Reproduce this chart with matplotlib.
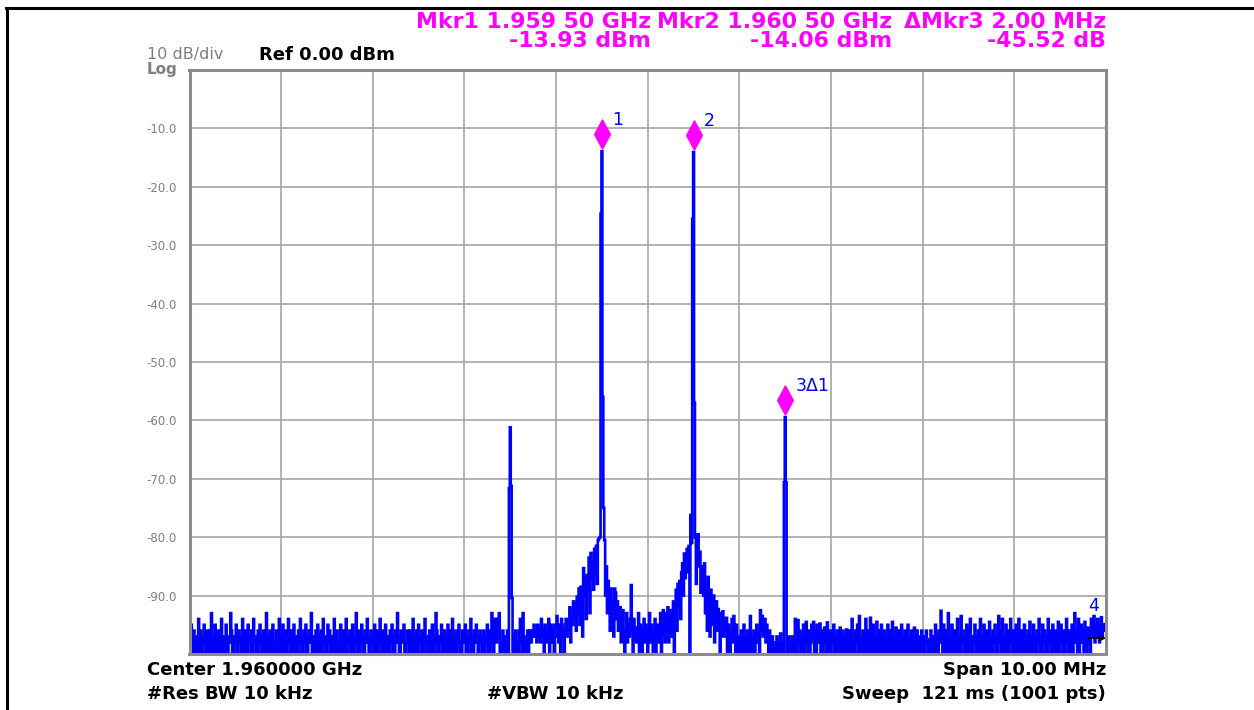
import numpy as np
import matplotlib
matplotlib.use('Agg')
import matplotlib.pyplot as plt
from matplotlib.lines import Line2D
from matplotlib.path import Path
from matplotlib.transforms import offset_copy

# sweep settings
center_ghz = 1.96
span_ghz = 0.01
n_pts = 1001
ref_dbm = 0.0
db_per_div = 10

# measured trace, dBm, one value per sweep point (below -100 is off screen)
trace_dbm = [
    -97, -101, -95, -98, -104, -96, -101, -97, -104, -98, -94, -101, -96, -104, -97, -98, -95, -101, -104, -96,
    -98, -104, -96, -101, -93, -97, -104, -98, -95, -101, -97, -104, -96, -98, -101, -94, -104, -97, -98, -101,
    -95, -101, -104, -97, -98, -93, -96, -104, -101, -97, -98, -95, -104, -101, -96, -98, -97, -104, -94, -101,
    -98, -96, -104, -101, -95, -97, -98, -104, -96, -101, -94, -98, -97, -104, -101, -96, -98, -95, -104, -97,
    -101, -96, -98, -104, -93, -97, -101, -98, -96, -104, -97, -95, -101, -98, -104, -96, -97, -101, -94, -98,
    -104, -97, -95, -101, -98, -96, -104, -97, -94, -98, -101, -96, -97, -104, -95, -98, -101, -97, -104, -96,
    -98, -94, -101, -97, -104, -96, -98, -95, -101, -104, -97, -96, -98, -93, -101, -97, -104, -98, -96, -101,
    -95, -98, -104, -97, -96, -101, -94, -98, -97, -104, -101, -95, -98, -96, -104, -97, -101, -98, -94, -104,
    -97, -96, -101, -98, -104, -95, -97, -101, -96, -98, -104, -94, -101, -97, -98, -96, -104, -101, -95, -97,
    -101, -98, -93, -97, -104, -96, -101, -98, -95, -97, -104, -101, -96, -98, -94, -97, -101, -104, -96, -98,
    -97, -101, -95, -104, -98, -96, -101, -97, -94, -98, -104, -96, -97, -101, -95, -98, -104, -97, -101, -96,
    -98, -95, -104, -97, -101, -96, -98, -93, -97, -104, -101, -96, -98, -97, -95, -104, -101, -98, -96, -97,
    -104, -96, -98, -101, -94, -97, -104, -98, -96, -101, -95, -97, -98, -104, -96, -101, -97, -94, -98, -104,
    -97, -101, -96, -98, -104, -95, -97, -101, -98, -93, -96, -104, -101, -97, -98, -95, -101, -104, -96, -98,
    -101, -97, -95, -104, -98, -96, -101, -94, -97, -104, -98, -96, -101, -97, -95, -98, -104, -101, -96, -97,
    -98, -95, -104, -97, -101, -96, -98, -94, -104, -97, -101, -96, -98, -95, -97, -104, -101, -96, -98, -97,
    -101, -96, -104, -97, -98, -95, -101, -96, -104, -98, -93, -97, -101, -94, -96, -98, -94, -97, -93, -101,
    -98, -104, -96, -101, -97, -104, -98, -96, -101, -71.6, -61.2, -71.2, -90.4, -101, -104, -97, -96, -101, -98, -104,
    -96, -94, -98, -104, -93, -101, -97, -104, -98, -96, -101, -97, -96, -98, -97, -96, -95, -97, -96, -98,
    -95, -97, -96, -98, -94, -97, -96, -101, -95, -97, -98, -96, -94, -101, -97, -95, -98, -96, -104, -95,
    -97, -93.5, -96, -98, -95, -101, -94, -97, -96, -104, -95, -94, -97, -95, -96, -92, -98, -93, -95, -91,
    -94, -91.6, -96, -90.2, -93, -88.8, -95, -88.5, -92, -97, -85.3, -90, -87, -94, -86.5, -89, -83.5, -93, -82.7, -87,
    -84, -89, -82, -86, -81.5, -88, -80.5, -80.2, -80, -24.6, -13.93, -56, -75, -80.5, -90, -85, -93, -87.5, -91, -96,
    -88.8, -91, -95.8, -97, -88.8, -89.5, -94, -91, -96, -93, -92, -98, -95, -92.5, -97, -101, -96, -93, -98, -95,
    -97, -94, -88.2, -96, -101, -94, -97, -95.5, -98, -96, -93, -101, -95, -97, -104, -96, -94, -98, -95, -97,
    -101, -96, -93, -98, -95, -97, -104, -96, -94, -101, -97, -95, -98, -96, -93, -101, -97, -92.5, -95, -98,
    -93, -96, -92, -98, -94, -92.5, -97, -95, -91, -101, -93, -89, -96, -88, -92, -87.5, -94, -86, -84.5, -90,
    -82.8, -87, -84, -82, -86, -81.5, -101, -76.2, -81, -25.5, -14.06, -57, -80, -88, -81, -79.5, -85, -82.5, -89.5, -85,
    -86, -90, -84.5, -93, -88, -96, -86.8, -91, -97, -89, -92, -95, -90, -98, -93, -91, -96, -92.3, -94, -101,
    -93, -95, -92.7, -97, -94, -96, -93.8, -101, -95, -97, -104, -96, -94, -98, -93.5, -96, -101, -95, -97, -104,
    -97, -101, -96, -104, -98, -95, -101, -97, -104, -96, -98, -101, -93.5, -97, -104, -98, -96, -101, -97, -95,
    -98, -96, -101, -92.5, -96, -93.5, -97, -95.5, -94, -98, -95, -97, -101, -96, -98, -104, -97, -101, -104, -98,
    -101, -97, -104, -98, -101, -96.5, -104, -98, -101, -70.6, -59.45, -70.6, -101, -104, -97, -101, -98, -104, -97, -101,
    -101, -94, -97, -104, -94.2, -98, -96, -101, -104, -97, -95, -101, -98, -94.5, -97, -104, -96, -101, -98, -95,
    -97, -94.5, -101, -96, -104, -95, -98, -97, -94.8, -101, -96, -104, -98, -95.5, -97, -101, -94.6, -98, -104, -96,
    -101, -96.5, -98, -95, -104, -97, -101, -96, -98, -104, -95.5, -97, -101, -96, -98, -104, -97, -95.8, -101, -98,
    -96, -104, -98, -94, -101, -97, -104, -96, -98, -95, -101, -93.5, -97, -104, -98, -96, -101, -97, -94, -104,
    -98, -96, -101, -93.8, -97, -104, -95, -98, -101, -97, -94.5, -104, -96, -98, -101, -95, -97, -104, -96, -98,
    -101, -97, -95, -104, -98, -96, -101, -94.5, -97, -104, -98, -95.5, -101, -97, -96, -104, -98, -95, -101, -97,
    -104, -96, -98, -101, -95, -97, -104, -98, -96, -101, -97, -95.5, -104, -98, -96, -101, -97, -104, -98, -96,
    -101, -97, -104, -98, -96, -97.5, -101, -104, -98, -96, -101, -97, -104, -98, -95, -101, -97, -104, -96, -98,
    -92.6, -97, -101, -95, -104, -98, -96, -101, -93, -97, -104, -98, -95, -101, -97, -96, -104, -98, -94, -101,
    -97, -104, -93.5, -98, -96, -101, -97, -104, -95, -98, -101, -96, -94, -104, -97, -101, -98, -95, -97, -104,
    -98, -96, -101, -94, -97, -104, -98, -95, -101, -97, -96, -104, -98, -94.5, -101, -97, -104, -96, -98, -95,
    -101, -97, -104, -93.5, -98, -96, -101, -94, -97, -104, -98, -95, -101, -96, -104, -97, -94, -98, -101, -96,
    -97, -104, -95, -98, -101, -94, -97, -104, -96, -98, -101, -95, -97, -104, -98, -96, -101, -94.5, -97, -104,
    -98, -95, -101, -97, -104, -96, -98, -94, -101, -97, -104, -95, -98, -96, -101, -97, -104, -94, -98, -96,
    -101, -97, -95, -104, -98, -96, -101, -97, -94.5, -104, -98, -95, -97, -101, -96, -104, -98, -94, -97, -101,
    -96, -104, -98, -95, -101, -97, -93, -98, -96, -104, -94, -101, -97, -95, -98, -96, -104, -94.5, -97, -101,
    -95.5, -98, -96, -101, -94, -97, -96, -93.5, -98, -95, -97, -94, -96, -98, -95, -93.7, -97, -95, -96, -94.9,
    -95,
]

# markers: sweep point index and label
mkr_idx = [450, 550, 650]
mkr_labels = ['1', '2', '3\u03941']
mkr4_label = '4'
mkr4_dbm = -97.3

y_tick_labels = ['-10.0', '-20.0', '-30.0', '-40.0', '-50.0', '-60.0', '-70.0', '-80.0', '-90.0']

header_top = ['Mkr1 1.959 50 GHz', 'Mkr2 1.960 50 GHz', '\u0394Mkr3 2.00 MHz']
header_bottom = ['-13.93 dBm', '-14.06 dBm', '-45.52 dB']

W, H = 1254, 710
MAGENTA = '#ff00ff'
BLUE = '#0000ff'
GRAY = '#7f7f7f'


def fx(px):
    return px / W


def fy(py):
    return 1 - py / H


trace = np.array(trace_dbm)
assert len(trace) == n_pts
freq = np.linspace(center_ghz - span_ghz / 2, center_ghz + span_ghz / 2, n_pts)

fig = plt.figure(figsize=(W / 100, H / 100), dpi=100)
fig.patch.set_facecolor('white')

left, right, top, bottom = 189.5, 1106, 69.9, 654
ax = fig.add_axes([fx(left), fy(bottom), (right - left) / W, (bottom - top) / H])

ax.set_xlim(freq[0], freq[-1])
ax.set_ylim(ref_dbm - 10 * db_per_div, ref_dbm)
ax.set_xticks(np.linspace(freq[0], freq[-1], 11))
ax.set_yticks(np.arange(ref_dbm - 10 * db_per_div, ref_dbm + 1, db_per_div))
ax.set_xticklabels([])
ax.set_yticklabels([''] + y_tick_labels[::-1] + [''])
ax.tick_params(length=0, pad=9, labelsize=8.5, labelcolor=GRAY)
ax.grid(True, color='#a6a6a6', lw=1.2)
ax.set_axisbelow(True)
for s in ax.spines.values():
    s.set_color('#8c8c8c')
    s.set_linewidth(2.2)

ax.plot(freq, trace, color=BLUE, lw=1.9, drawstyle='steps-mid', solid_joinstyle='miter')

# marker diamonds sit just above the trace point
diamond = Path([(0, 1), (0.54, 0), (0, -1), (-0.54, 0), (0, 1)],
               [Path.MOVETO, Path.LINETO, Path.LINETO, Path.LINETO, Path.CLOSEPOLY])
above = offset_copy(ax.transData, fig=fig, x=0, y=12.5, units='points')
for i, lab in zip(mkr_idx, mkr_labels):
    ax.plot(freq[i], trace[i], marker=diamond, ms=21, color=MAGENTA,
            mec=MAGENTA, transform=above, clip_on=False)
    ax.annotate(lab, xy=(freq[i], trace[i]), xytext=(7.5, 16), textcoords='offset points',
                color=BLUE, fontsize=12.5, ha='left', va='bottom')

# marker 4 is off screen to the right
ax.annotate('', xy=(1.0, mkr4_dbm), xycoords=('axes fraction', 'data'),
            xytext=(-13, 0), textcoords='offset points',
            arrowprops=dict(arrowstyle='->', color='black', lw=1, shrinkA=0, shrinkB=0))
ax.annotate(mkr4_label, xy=(1.0, mkr4_dbm), xycoords=('axes fraction', 'data'),
            xytext=(-13, 16.5), textcoords='offset points',
            color=BLUE, fontsize=12.5, ha='left', va='bottom')

# annotation text around the screen
col_right = [651, 892, 1106]
for xr, t1, t2 in zip(col_right, header_top, header_bottom):
    fig.text(fx(xr), fy(28), t1, color=MAGENTA, fontsize=15.8, fontweight='bold',
             ha='right', va='baseline')
    fig.text(fx(xr), fy(47), t2, color=MAGENTA, fontsize=15.8, fontweight='bold',
             ha='right', va='baseline')

fig.text(fx(147), fy(59), '10 dB/div', color=GRAY, fontsize=11.5, va='baseline')
fig.text(fx(147), fy(74), 'Log', color=GRAY, fontsize=11, fontweight='bold', va='baseline')
fig.text(fx(259), fy(60), 'Ref 0.00 dBm', color='black', fontsize=13, fontweight='bold', va='baseline')

fig.text(fx(147), fy(675), 'Center 1.960000 GHz', fontsize=13, fontweight='bold', va='baseline')
fig.text(fx(147), fy(699), '#Res BW 10 kHz', fontsize=13, fontweight='bold', va='baseline')
fig.text(fx(555), fy(699), '#VBW 10 kHz', fontsize=13, fontweight='bold', ha='center', va='baseline')
fig.text(fx(1106), fy(675), 'Span 10.00 MHz', fontsize=13, fontweight='bold', ha='right', va='baseline')
fig.text(fx(1106), fy(699), 'Sweep  121 ms (1001 pts)', fontsize=13, fontweight='bold',
         ha='right', va='baseline')

# outer window frame (top and left edges)
fig.add_artist(Line2D([fx(6), 1], [fy(7.5), fy(7.5)], color='black', lw=2.2))
fig.add_artist(Line2D([fx(6.5), fx(6.5)], [0, fy(7.5)], color='black', lw=2.2))

fig.savefig('out.png', dpi=100)
